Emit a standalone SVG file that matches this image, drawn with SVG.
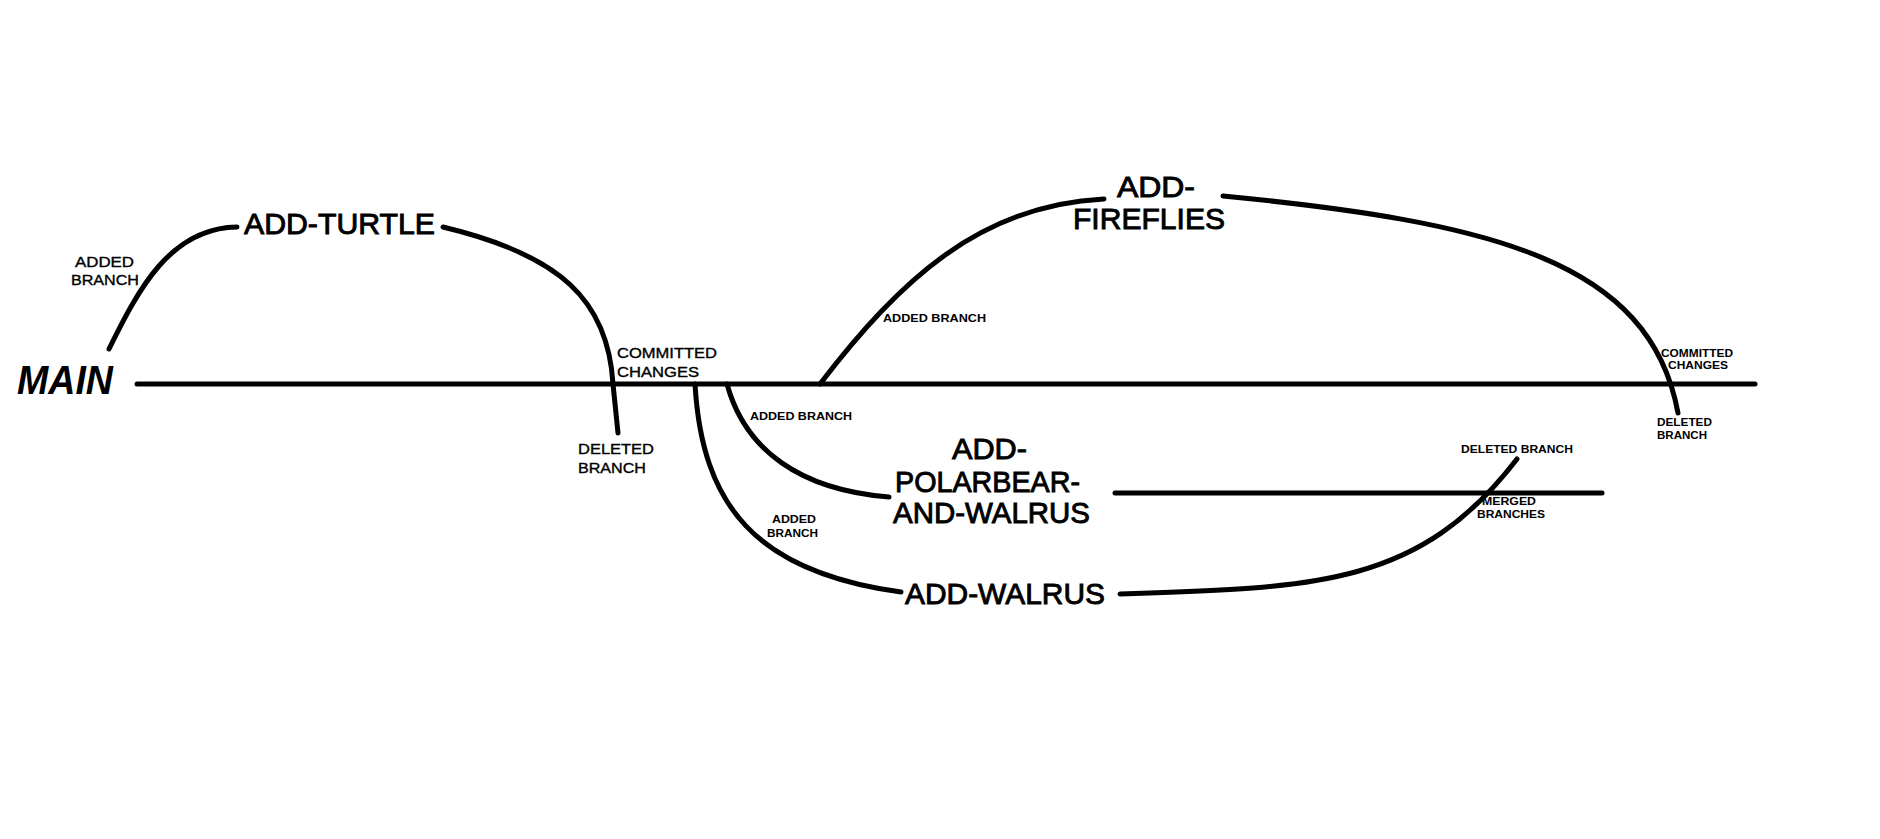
<svg xmlns="http://www.w3.org/2000/svg" width="1880" height="839" viewBox="0 0 1880 839">
<style>
.e{fill:none;stroke:#000;stroke-width:5;stroke-linecap:round}
text{font-family:"Liberation Sans","DejaVu Sans",sans-serif;fill:#000}
.big{font-size:29px;stroke:#000;stroke-width:0.9}
.lbl{font-size:14px;stroke:#000;stroke-width:0.35}
.sm{font-size:11px;font-weight:bold}
</style>
<rect width="1880" height="839" fill="#fff"/>
<g id="connectors">
<path class="e" d="M137,384 L1755,384"/>
<path class="e" d="M109,349 C138,290 170,228 237,227"/>
<path class="e" d="M443,227 C560,255 608,300 613,384 L618,433"/>
<path class="e" d="M820,384 C900,280 980,205 1104,199"/>
<path class="e" d="M1223,196 C1490,222 1650,260 1678,413"/>
<path class="e" d="M727,384 C745,450 800,490 889,497"/>
<path class="e" d="M695,384 C702,505 755,572 901,592"/>
<path class="e" d="M1115,493 L1602,493"/>
<path class="e" d="M1120,594 C1320,588 1420,585 1517,459"/>
</g>
<g id="main"><text x="17" y="394" font-size="40" font-weight="bold" font-style="italic" textLength="96" lengthAdjust="spacingAndGlyphs">MAIN</text></g>
<g id="add-turtle"><text class="big" x="244" y="234" textLength="191" lengthAdjust="spacingAndGlyphs">ADD-TURTLE</text></g>
<g id="add-fireflies">
<text class="big" x="1117" y="197" textLength="78" lengthAdjust="spacingAndGlyphs">ADD-</text>
<text class="big" x="1073" y="229" textLength="152" lengthAdjust="spacingAndGlyphs">FIREFLIES</text>
</g>
<g id="add-polarbear-and-walrus">
<text class="big" x="952" y="459" textLength="75" lengthAdjust="spacingAndGlyphs">ADD-</text>
<text class="big" x="895" y="492" textLength="185" lengthAdjust="spacingAndGlyphs">POLARBEAR-</text>
<text class="big" x="893" y="523" textLength="197" lengthAdjust="spacingAndGlyphs">AND-WALRUS</text>
</g>
<g id="add-walrus"><text class="big" x="905" y="604" textLength="200" lengthAdjust="spacingAndGlyphs">ADD-WALRUS</text></g>
<g id="labels">
<text class="lbl" x="75" y="267" textLength="59" lengthAdjust="spacingAndGlyphs">ADDED</text>
<text class="lbl" x="71" y="285" textLength="68" lengthAdjust="spacingAndGlyphs">BRANCH</text>
<text class="lbl" x="617" y="358" textLength="100" lengthAdjust="spacingAndGlyphs">COMMITTED</text>
<text class="lbl" x="617" y="377" textLength="82" lengthAdjust="spacingAndGlyphs">CHANGES</text>
<text class="lbl" x="578" y="454" textLength="76" lengthAdjust="spacingAndGlyphs">DELETED</text>
<text class="lbl" x="578" y="473" textLength="68" lengthAdjust="spacingAndGlyphs">BRANCH</text>
<text class="sm" x="750" y="420" textLength="102" lengthAdjust="spacingAndGlyphs">ADDED BRANCH</text>
<text class="sm" x="772" y="523" textLength="44" lengthAdjust="spacingAndGlyphs">ADDED</text>
<text class="sm" x="767" y="537" textLength="51" lengthAdjust="spacingAndGlyphs">BRANCH</text>
<text class="sm" x="883" y="322" textLength="103" lengthAdjust="spacingAndGlyphs">ADDED BRANCH</text>
<text class="sm" x="1661" y="357" textLength="72" lengthAdjust="spacingAndGlyphs">COMMITTED</text>
<text class="sm" x="1668" y="369" textLength="60" lengthAdjust="spacingAndGlyphs">CHANGES</text>
<text class="sm" x="1657" y="426" textLength="55" lengthAdjust="spacingAndGlyphs">DELETED</text>
<text class="sm" x="1657" y="439" textLength="50" lengthAdjust="spacingAndGlyphs">BRANCH</text>
<text class="sm" x="1461" y="453" textLength="112" lengthAdjust="spacingAndGlyphs">DELETED BRANCH</text>
<text class="sm" x="1482" y="505" textLength="54" lengthAdjust="spacingAndGlyphs">MERGED</text>
<text class="sm" x="1477" y="518" textLength="68" lengthAdjust="spacingAndGlyphs">BRANCHES</text>
</g>
</svg>
